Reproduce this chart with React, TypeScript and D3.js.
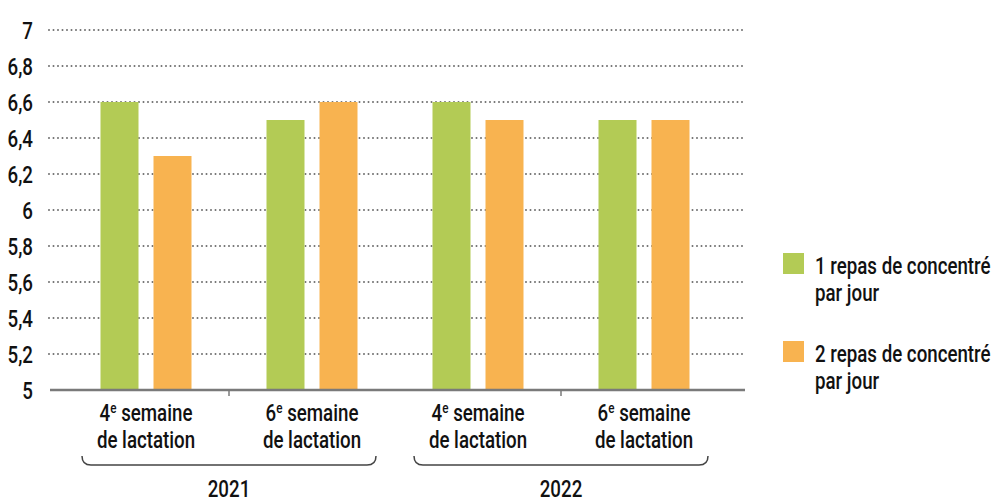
import React, { useEffect, useRef } from 'react';
import * as d3 from 'd3';

// chart values
const weeks = ['4', '6', '4', '6'];
const years = ['2021', '2022'];
const oneMeal = [6.6, 6.5, 6.6, 6.5];
const twoMeals = [6.3, 6.6, 6.5, 6.5];
const yTicks = [5, 5.2, 5.4, 5.6, 5.8, 6, 6.2, 6.4, 6.6, 6.8, 7];
const seriesNames = ['1 repas de concentré', '2 repas de concentré'];
const colors = ['#b3cb55', '#f8b350'];

const FONT = "Roboto, 'Liberation Sans', sans-serif";
const SX = 0.78; // squeeze text horizontally to look like a condensed face

// text squeezed around its anchor point
const label = (parent: any, x: number, y: number, size: number, anchor = 'start') =>
  parent.append('text')
    .attr('transform', `translate(${x},${y}) scale(${SX},1)`)
    .attr('text-anchor', anchor)
    .attr('font-family', FONT)
    .attr('font-weight', 500)
    .attr('font-size', size)
    .attr('fill', '#111');

const App = () => {
  const ref = useRef<SVGSVGElement>(null);

  useEffect(() => {
    const svg = d3.select(ref.current);
    svg.selectAll('*').remove();

    const y = d3.scaleLinear().domain([5, 7]).range([390, 30]);
    const x = d3.scaleBand<number>().domain(d3.range(weeks.length)).range([63, 727]);
    const barW = 38;
    const gap = 15;

    // dotted gridlines
    svg.append('g')
      .selectAll('line')
      .data(yTicks.filter(t => t > 5))
      .enter().append('line')
      .attr('x1', 49).attr('x2', 745)
      .attr('y1', d => y(d)).attr('y2', d => y(d))
      .attr('stroke', '#6f6f6f')
      .attr('stroke-width', 2)
      .attr('stroke-linecap', 'round')
      .attr('stroke-dasharray', '0 4.5');

    // y labels
    yTicks.forEach(t => {
      label(svg, 33, y(t) + 8.5, 24, 'end').text(String(t).replace('.', ','));
    });

    // bars
    [oneMeal, twoMeals].forEach((vals, s) => {
      svg.append('g')
        .selectAll('rect')
        .data(vals)
        .enter().append('rect')
        .attr('x', (d, i) => x(i)! + x.bandwidth() / 2 - barW - gap / 2 + s * (barW + gap))
        .attr('y', d => y(d))
        .attr('width', barW)
        .attr('height', d => y(5) - y(d))
        .attr('fill', colors[s]);
    });

    // baseline and ticks
    svg.append('line')
      .attr('x1', 50).attr('x2', 745)
      .attr('y1', y(5)).attr('y2', y(5))
      .attr('stroke', '#7a7a7a').attr('stroke-width', 2.5);
    [1, 3].forEach(i => {
      svg.append('line')
        .attr('x1', x(i)!).attr('x2', x(i)!)
        .attr('y1', y(5)).attr('y2', y(5) + 6)
        .attr('stroke', '#7a7a7a').attr('stroke-width', 1.5);
    });

    // category labels
    weeks.forEach((w, i) => {
      const cx = x(i)! + x.bandwidth() / 2;
      const t1 = label(svg, cx, 421, 24, 'middle');
      t1.append('tspan').text(w);
      t1.append('tspan').attr('font-size', 15).attr('dy', -8).text('e');
      t1.append('tspan').attr('dy', 8).text(' semaine');
      label(svg, cx, 448, 24, 'middle').text('de lactation');
    });

    // braces and years
    years.forEach((yr, k) => {
      const left = x(k * 2)! + 19;
      const right = x(k * 2 + 1)! + x.bandwidth() - 19;
      const by = 465;
      svg.append('path')
        .attr('d', `M${left},${by - 9} Q${left},${by} ${left + 9},${by} L${right - 9},${by} Q${right},${by} ${right},${by - 9}`)
        .attr('fill', 'none')
        .attr('stroke', '#444')
        .attr('stroke-width', 1.5);
      label(svg, (left + right) / 2, 497, 24, 'middle').text(yr);
    });

    // legend
    seriesNames.forEach((name, s) => {
      const ly = 253 + s * 88;
      svg.append('rect')
        .attr('x', 783).attr('y', ly)
        .attr('width', 21).attr('height', 21)
        .attr('fill', colors[s]);
      label(svg, 815, ly + 21, 24).text(name);
      label(svg, 815, ly + 48, 24).text('par jour');
    });
  }, []);

  return (
    <svg ref={ref} width={992} height={501}
      style={{ position: 'absolute', left: 0, top: 0, background: '#fff' }} />
  );
};

export default App;
